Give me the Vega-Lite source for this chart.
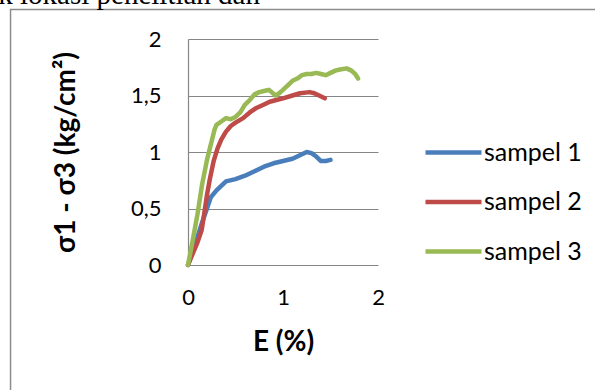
{
  "$schema": "https://vega.github.io/schema/vega-lite/v6.json",
  "width": 190,
  "height": 226,
  "autosize": {"type": "none"},
  "padding": {"left": 188, "top": 39, "right": 217, "bottom": 125},
  "background": "white",
  "datasets": {
    "curves": [
      {"E": 0, "S": 0, "s": "sampel 1"},
      {"E": 0.05, "S": 0.12, "s": "sampel 1"},
      {"E": 0.1, "S": 0.25, "s": "sampel 1"},
      {"E": 0.15, "S": 0.38, "s": "sampel 1"},
      {"E": 0.2, "S": 0.5, "s": "sampel 1"},
      {"E": 0.24, "S": 0.6, "s": "sampel 1"},
      {"E": 0.3, "S": 0.66, "s": "sampel 1"},
      {"E": 0.35, "S": 0.7, "s": "sampel 1"},
      {"E": 0.4, "S": 0.74, "s": "sampel 1"},
      {"E": 0.5, "S": 0.76, "s": "sampel 1"},
      {"E": 0.6, "S": 0.79, "s": "sampel 1"},
      {"E": 0.7, "S": 0.83, "s": "sampel 1"},
      {"E": 0.8, "S": 0.87, "s": "sampel 1"},
      {"E": 0.9, "S": 0.9, "s": "sampel 1"},
      {"E": 1.0, "S": 0.92, "s": "sampel 1"},
      {"E": 1.1, "S": 0.94, "s": "sampel 1"},
      {"E": 1.2, "S": 0.98, "s": "sampel 1"},
      {"E": 1.25, "S": 1.0, "s": "sampel 1"},
      {"E": 1.3, "S": 0.99, "s": "sampel 1"},
      {"E": 1.35, "S": 0.96, "s": "sampel 1"},
      {"E": 1.4, "S": 0.92, "s": "sampel 1"},
      {"E": 1.45, "S": 0.92, "s": "sampel 1"},
      {"E": 1.5, "S": 0.93, "s": "sampel 1"},

      {"E": 0, "S": 0, "s": "sampel 2"},
      {"E": 0.05, "S": 0.1, "s": "sampel 2"},
      {"E": 0.1, "S": 0.2, "s": "sampel 2"},
      {"E": 0.144, "S": 0.31, "s": "sampel 2"},
      {"E": 0.17, "S": 0.45, "s": "sampel 2"},
      {"E": 0.2, "S": 0.62, "s": "sampel 2"},
      {"E": 0.23, "S": 0.76, "s": "sampel 2"},
      {"E": 0.27, "S": 0.92, "s": "sampel 2"},
      {"E": 0.31, "S": 1.03, "s": "sampel 2"},
      {"E": 0.35, "S": 1.11, "s": "sampel 2"},
      {"E": 0.4, "S": 1.18, "s": "sampel 2"},
      {"E": 0.45, "S": 1.23, "s": "sampel 2"},
      {"E": 0.5, "S": 1.26, "s": "sampel 2"},
      {"E": 0.58, "S": 1.3, "s": "sampel 2"},
      {"E": 0.65, "S": 1.35, "s": "sampel 2"},
      {"E": 0.72, "S": 1.39, "s": "sampel 2"},
      {"E": 0.8, "S": 1.42, "s": "sampel 2"},
      {"E": 0.86, "S": 1.445, "s": "sampel 2"},
      {"E": 0.93, "S": 1.46, "s": "sampel 2"},
      {"E": 1.0, "S": 1.475, "s": "sampel 2"},
      {"E": 1.1, "S": 1.5, "s": "sampel 2"},
      {"E": 1.18, "S": 1.52, "s": "sampel 2"},
      {"E": 1.28, "S": 1.53, "s": "sampel 2"},
      {"E": 1.33, "S": 1.52, "s": "sampel 2"},
      {"E": 1.38, "S": 1.5, "s": "sampel 2"},
      {"E": 1.44, "S": 1.475, "s": "sampel 2"},

      {"E": 0, "S": 0, "s": "sampel 3"},
      {"E": 0.05, "S": 0.22, "s": "sampel 3"},
      {"E": 0.1, "S": 0.45, "s": "sampel 3"},
      {"E": 0.15, "S": 0.72, "s": "sampel 3"},
      {"E": 0.2, "S": 0.93, "s": "sampel 3"},
      {"E": 0.25, "S": 1.1, "s": "sampel 3"},
      {"E": 0.28, "S": 1.2, "s": "sampel 3"},
      {"E": 0.3, "S": 1.24, "s": "sampel 3"},
      {"E": 0.35, "S": 1.27, "s": "sampel 3"},
      {"E": 0.4, "S": 1.3, "s": "sampel 3"},
      {"E": 0.45, "S": 1.29, "s": "sampel 3"},
      {"E": 0.5, "S": 1.31, "s": "sampel 3"},
      {"E": 0.55, "S": 1.35, "s": "sampel 3"},
      {"E": 0.6, "S": 1.42, "s": "sampel 3"},
      {"E": 0.65, "S": 1.46, "s": "sampel 3"},
      {"E": 0.7, "S": 1.51, "s": "sampel 3"},
      {"E": 0.75, "S": 1.53, "s": "sampel 3"},
      {"E": 0.8, "S": 1.54, "s": "sampel 3"},
      {"E": 0.85, "S": 1.55, "s": "sampel 3"},
      {"E": 0.88, "S": 1.53, "s": "sampel 3"},
      {"E": 0.92, "S": 1.5, "s": "sampel 3"},
      {"E": 0.96, "S": 1.52, "s": "sampel 3"},
      {"E": 1.0, "S": 1.55, "s": "sampel 3"},
      {"E": 1.05, "S": 1.59, "s": "sampel 3"},
      {"E": 1.1, "S": 1.63, "s": "sampel 3"},
      {"E": 1.15, "S": 1.65, "s": "sampel 3"},
      {"E": 1.2, "S": 1.68, "s": "sampel 3"},
      {"E": 1.25, "S": 1.69, "s": "sampel 3"},
      {"E": 1.3, "S": 1.69, "s": "sampel 3"},
      {"E": 1.35, "S": 1.7, "s": "sampel 3"},
      {"E": 1.4, "S": 1.69, "s": "sampel 3"},
      {"E": 1.45, "S": 1.68, "s": "sampel 3"},
      {"E": 1.5, "S": 1.7, "s": "sampel 3"},
      {"E": 1.55, "S": 1.72, "s": "sampel 3"},
      {"E": 1.6, "S": 1.73, "s": "sampel 3"},
      {"E": 1.67, "S": 1.74, "s": "sampel 3"},
      {"E": 1.72, "S": 1.72, "s": "sampel 3"},
      {"E": 1.76, "S": 1.69, "s": "sampel 3"},
      {"E": 1.79, "S": 1.65, "s": "sampel 3"}
    ]
  },
  "layer": [
    {
      "description": "chart-area border",
      "data": {"values": [{}]},
      "mark": {"type": "rect", "fill": "white", "fillOpacity": 0, "stroke": "#8c8c8c", "strokeWidth": 1.5, "clip": false},
      "encoding": {
        "x": {"datum": -1.868, "type": "quantitative"},
        "x2": {"datum": 4.5},
        "y": {"datum": 2.261, "type": "quantitative"},
        "y2": {"datum": -1.5}
      }
    },
    {
      "description": "end of the body-text line running above the chart",
      "data": {"values": [{}]},
      "mark": {"type": "text", "align": "right", "baseline": "alphabetic", "font": "Liberation Serif", "fontSize": 29, "color": "black", "clip": false},
      "encoding": {
        "x": {"datum": 0.758, "type": "quantitative"},
        "y": {"datum": 2.31, "type": "quantitative"},
        "text": {"value": "k lokasi penelitian dan"}
      }
    },
    {
      "data": {"name": "curves"},
      "mark": {"type": "line", "strokeWidth": 4.5, "strokeJoin": "round", "strokeCap": "round"},
      "encoding": {
        "x": {
          "field": "E", "type": "quantitative",
          "scale": {"domain": [0, 2], "nice": false, "zero": false},
          "axis": {
            "title": "E (%)", "tickCount": 3,
            "labelExpr": "datum.value % 1 == 0 ? format(datum.value, 'd') : ''",
            "grid": false, "ticks": false, "domain": false,
            "labelFlush": false, "labelOverlap": false, "labelSeparation": 0,
            "labelFont": "Lato", "labelFontSize": 22, "labelColor": "black", "labelPadding": 22,
            "titleFont": "Lato", "titleFontSize": 28, "titleFontWeight": "bold", "titleColor": "black", "titlePadding": 20
          }
        },
        "y": {
          "field": "S", "type": "quantitative",
          "scale": {"domain": [0, 2], "nice": false},
          "axis": {
            "title": "σ1 - σ3 (kg/cm²)", "values": [0, 0.5, 1, 1.5, 2],
            "labelExpr": "replace(format(datum.value, '~g'), '.', ',')",
            "labelFlush": false, "labelOverlap": false,
            "grid": true, "gridColor": "#868686", "gridWidth": 1.2,
            "ticks": false, "domain": true, "domainColor": "#868686", "domainWidth": 1.2,
            "labelFont": "Lato", "labelFontSize": 22, "labelColor": "black", "labelPadding": 27,
            "titleFont": "Lato", "titleFontSize": 28, "titleFontWeight": "bold", "titleColor": "black", "titlePadding": 50
          }
        },
        "color": {
          "field": "s", "type": "nominal",
          "scale": {"domain": ["sampel 1", "sampel 2", "sampel 3"], "range": ["#4a7ebb", "#be4b48", "#98b954"]},
          "legend": {
            "title": null, "orient": "none", "legendX": 235, "legendY": 83,
            "symbolType": "M-1,0H1", "symbolSize": 3136, "symbolStrokeWidth": 4.5,
            "labelFont": "Lato", "labelFontSize": 25, "labelColor": "black", "labelOffset": 0,
            "rowPadding": 5.5
          }
        }
      }
    }
  ],
  "config": {"view": {"stroke": null}}
}
